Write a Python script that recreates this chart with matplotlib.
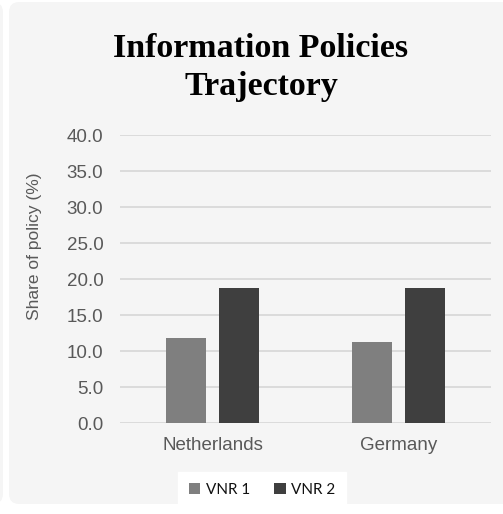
import numpy as np
import matplotlib.pyplot as plt
from matplotlib.patches import FancyBboxPatch

countries = ['Netherlands', 'Germany']
series = ['VNR 1', 'VNR 2']
vnr1 = [11.8, 11.3]
vnr2 = [18.8, 18.8]
yticks = [0, 5, 10, 15, 20, 25, 30, 35, 40]

colors = ['#7f7f7f', '#3f3f3f']
W, H = 503, 514

plt.rcParams['font.family'] = 'Liberation Sans'

fig = plt.figure(figsize=(W / 100, H / 100), dpi=100)
fig.patch.set_facecolor('white')

# card backgrounds
for x0, w in [(-20, 23), (9, 520)]:
    fig.patches.append(FancyBboxPatch((x0 / W, 10 / H), w / W, 502 / H,
                                      boxstyle='round,pad=0,rounding_size=0.02',
                                      transform=fig.transFigure, facecolor='#f5f5f5',
                                      edgecolor='none', zorder=-1))

ax = fig.add_axes([120 / W, 1 - 423 / H, 371 / W, 288 / H])
ax.set_facecolor('none')
ax.set_zorder(1)

x = np.arange(len(countries))
bw = 0.216
off = 0.143
ax.bar(x - off, vnr1, bw, color=colors[0], label=series[0], zorder=3)
ax.bar(x + off, vnr2, bw, color=colors[1], label=series[1], zorder=3)

ax.set_xlim(-0.5, 1.5)
ax.set_ylim(0, 40)
ax.set_yticks(yticks)
ax.set_yticklabels([f'{v:.1f}' for v in yticks], color='#595959', fontsize=13.5)
ax.set_xticks(x)
ax.set_xticklabels(countries, color='#595959', fontsize=13.5)
ax.tick_params(length=0)
ax.tick_params(axis='x', pad=10)
ax.tick_params(axis='y', pad=12)
ax.yaxis.grid(True, color='#d9d9d9', linewidth=1.3, zorder=0)
for s in ax.spines.values():
    s.set_visible(False)

fig.text(35 / W, 1 - 246 / H, 'Share of policy (%)', rotation=90, ha='center',
         va='center', color='#595959', fontsize=12.5)

title_kw = dict(ha='center', va='baseline', fontsize=24.5, fontweight='bold',
                family='Liberation Serif', color='black')
fig.text(261 / W, 1 - 57 / H, 'Information Policies', **title_kw)
fig.text(261 / W, 1 - 95 / H, 'Trajectory', **title_kw)

leg = fig.legend(loc='center', bbox_to_anchor=(262 / W, 1 - 490 / H), ncol=2,
                 frameon=True, fancybox=False, framealpha=1, edgecolor='white',
                 handlelength=0.75, handleheight=0.75, handletextpad=0.35,
                 columnspacing=1.6, borderpad=0.7,
                 prop={'family': 'Lato', 'size': 11})
for t in leg.get_texts():
    t.set_color('#111111')

fig.savefig('out.png', dpi=100, facecolor=fig.get_facecolor())
